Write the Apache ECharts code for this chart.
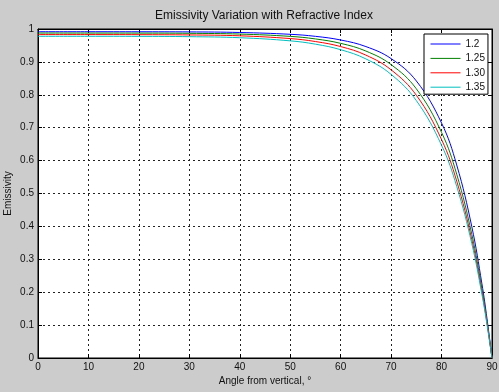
<!DOCTYPE html>
<html><head><meta charset="utf-8">
<script src="https://cdn.jsdelivr.net/npm/echarts@6/dist/echarts.min.js"></script>
<style>html,body{margin:0;padding:0;background:#cccccc}#c{width:499px;height:392px}</style>
</head><body><div id="c"></div>
<script>
// Angle from vertical (degrees)
const angles = [0, 10, 20, 30, 40, 50, 55, 60, 65, 70, 75, 80, 83, 86, 88, 89, 90];
// Emissivity for each refractive index
const e120 = [0.9917, 0.9917, 0.9916, 0.9912, 0.9894, 0.9839, 0.9777, 0.9666, 0.9466, 0.9100, 0.8421, 0.7141, 0.5869, 0.3989, 0.2256, 0.1203, 0];
const e125 = [0.9877, 0.9876, 0.9875, 0.9869, 0.9846, 0.9776, 0.9698, 0.9564, 0.9330, 0.8917, 0.8182, 0.6857, 0.5587, 0.3760, 0.2111, 0.1121, 0];
const e130 = [0.9830, 0.9830, 0.9828, 0.9820, 0.9793, 0.9709, 0.9619, 0.9466, 0.9206, 0.8759, 0.7987, 0.6639, 0.5378, 0.3596, 0.2010, 0.1065, 0];
const e135 = [0.9778, 0.9778, 0.9776, 0.9767, 0.9735, 0.9640, 0.9539, 0.9371, 0.9091, 0.8620, 0.7824, 0.6467, 0.5218, 0.3475, 0.1937, 0.1025, 0];
const seriesNames = ['1.2', '1.25', '1.30', '1.35'];
const xTickLabels = ['0', '10', '20', '30', '40', '50', '60', '70', '80', '90'];
const yTickLabels = ['0', '0.1', '0.2', '0.3', '0.4', '0.5', '0.6', '0.7', '0.8', '0.9', '1'];

const FONT = 'Liberation Sans, Arial, Helvetica, sans-serif';
const colors = ['#0000ff', '#008000', '#ff0000', '#00bfbf'];
const allVals = [e120, e125, e130, e135];

const chart = echarts.init(document.getElementById('c'), null, {renderer: 'canvas'});
const tickStyle = {show: true, inside: true, length: 4, lineStyle: {color: '#000', width: 1}};
const lineStyleAxis = {show: true, onZero: false, lineStyle: {color: '#000', width: 1}};
const grid = {show: true, left: 38, right: 7, top: 29, bottom: 34, backgroundColor: '#ffffff',
  borderColor: '#000', borderWidth: 1, containLabel: false, outerBoundsMode: 'none'};

const option = {
  animation: false,
  backgroundColor: '#cccccc',
  title: {
    text: 'Emissivity Variation with Refractive Index',
    left: 264, top: 10, padding: 0, textAlign: 'center',
    textStyle: {fontFamily: FONT, fontSize: 12, fontWeight: 'normal', color: '#111'}
  },
  legend: {
    data: seriesNames,
    orient: 'vertical',
    left: 424, top: 34,
    padding: [5, 3, 2, 6],
    itemWidth: 30, itemHeight: 10, itemGap: 4.4,
    backgroundColor: '#ffffff', borderColor: '#000', borderWidth: 1, borderRadius: 0,
    selectedMode: false,
    itemStyle: {opacity: 0},
    lineStyle: {width: 1},
    textStyle: {fontFamily: FONT, fontSize: 10, color: '#111'}
  },
  grid: grid,
  xAxis: [{
    type: 'value', min: 0, max: 90, interval: 10, position: 'bottom',
    axisLine: lineStyleAxis, axisTick: tickStyle,
    axisLabel: {margin: 4, color: '#111', fontSize: 10, fontFamily: FONT,
      formatter: v => xTickLabels[Math.round(v / 10)]},
    splitLine: {show: true, lineStyle: {color: '#222', type: [2, 3], width: 1}},
    name: 'Angle from vertical, °', nameLocation: 'middle', nameGap: 18, nameMoveOverlap: false,
    nameTextStyle: {fontFamily: FONT, fontSize: 10, color: '#111'}
  }, {
    type: 'value', min: 0, max: 90, interval: 10, position: 'top',
    axisLine: lineStyleAxis, axisTick: tickStyle, axisLabel: {show: false}, splitLine: {show: false}
  }],
  yAxis: [{
    type: 'value', min: 0, max: 1, interval: 0.1, position: 'left',
    axisLine: lineStyleAxis, axisTick: tickStyle,
    axisLabel: {margin: 4, color: '#111', fontSize: 10, fontFamily: FONT,
      formatter: v => yTickLabels[Math.round(v * 10)]},
    splitLine: {show: true, lineStyle: {color: '#222', type: [2, 3], width: 1}},
    name: 'Emissivity', nameLocation: 'middle', nameGap: 25, nameMoveOverlap: false,
    nameTextStyle: {fontFamily: FONT, fontSize: 10, color: '#111'}
  }, {
    type: 'value', min: 0, max: 1, interval: 0.1, position: 'right',
    axisLine: lineStyleAxis, axisTick: tickStyle, axisLabel: {show: false}, splitLine: {show: false}
  }],
  series: seriesNames.map((name, k) => ({
    name: name, type: 'line', xAxisIndex: 0, yAxisIndex: 0,
    data: angles.map((a, i) => [a, allVals[k][i]]),
    symbol: 'none', smooth: 0.4, clip: true,
    lineStyle: {color: colors[k], width: 1},
    itemStyle: {color: colors[k]}
  }))
};
chart.setOption(option);
</script></body></html>
